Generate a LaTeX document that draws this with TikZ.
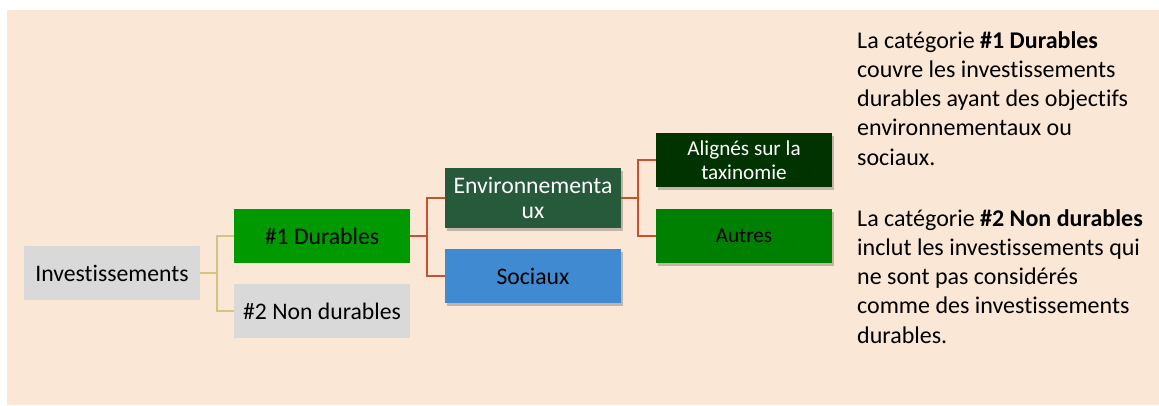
\documentclass[tikz,border=0pt]{standalone}
\usepackage{fontspec}
\setmainfont[Ligatures=NoCommon]{Carlito}
\usetikzlibrary{shadows}
\definecolor{bgpeach}{HTML}{FAE7D6}
\definecolor{boxgray}{HTML}{D9D9D9}
\definecolor{durgreen}{HTML}{009900}
\definecolor{envgreen}{HTML}{265A3A}
\definecolor{socblue}{HTML}{3F8AD0}
\definecolor{aligreen}{HTML}{003300}
\definecolor{autgreen}{HTML}{008000}
\definecolor{tanline}{HTML}{D5C47F}
\definecolor{redline}{HTML}{C9502E}
\tikzset{
  catbox/.style={rectangle, minimum width=176pt, minimum height=54pt, inner sep=2pt, align=center, font=\fontsize{23.7}{25.7}\selectfont},
  shbox/.style={catbox, drop shadow={shadow xshift=2pt, shadow yshift=-3pt, opacity=0.22, fill=black}},
  tanconn/.style={draw=tanline, line width=2pt},
  redconn/.style={draw=redline, line width=2pt},
  desc/.style={anchor=north west, inner sep=0pt, align=left, font=\fontsize{24}{29.3}\selectfont}
}
\begin{document}
\begin{tikzpicture}[x=1pt, y=-1pt]
\useasboundingbox (0,0) rectangle (1159,405);
\fill[bgpeach] (7,10) rectangle (1159,405);
% nodes
\node[catbox, fill=boxgray] (inv) at (112,273) {Investissements};
\node[catbox, fill=durgreen] (dur) at (322,236) {\#1 Durables};
\node[catbox, fill=boxgray] (non) at (322,311) {\#2 Non durables};
\node[shbox, fill=envgreen, text=white, minimum height=60pt] (env) at (533,198) {Environnementa\\ux};
\node[shbox, fill=socblue] (soc) at (533,276) {Sociaux};
\node[shbox, fill=aligreen, text=white, font=\fontsize{21.2}{24}\selectfont] (ali) at (744,160) {Alignés sur la\\taxinomie};
\node[shbox, fill=autgreen, font=\fontsize{21.2}{24}\selectfont] (aut) at (744,236) {Autres};
% connectors
\draw[tanconn] (inv.east) -- ++(17,0) |- (dur.west);
\draw[tanconn] (inv.east) -- ++(17,0) |- (non.west);
\draw[redconn] (dur.east) -- ++(17,0) |- (env.west);
\draw[redconn] (dur.east) -- ++(17,0) |- (soc.west);
\draw[redconn] (env.east) -- ++(17,0) |- (ali.west);
\draw[redconn] (env.east) -- ++(17,0) |- (aut.west);
% description
\node[desc] (d1) at (857,31) {La catégorie \textbf{\#1 Durables}\\couvre les investissements\\durables ayant des objectifs\\environnementaux ou\\sociaux.};
\node[desc] (d2) at (857,209) {La catégorie \textbf{\#2 Non durables}\\inclut les investissements qui\\ne sont pas considérés\\comme des investissements\\durables.};
\end{tikzpicture}
\end{document}
